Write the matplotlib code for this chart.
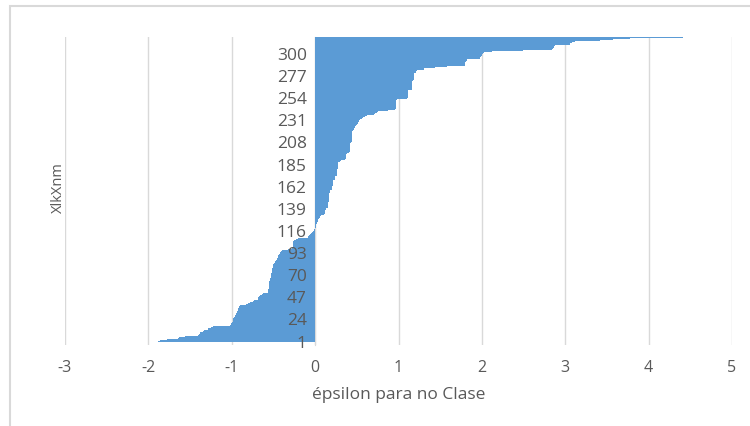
import matplotlib
matplotlib.use("Agg")
import matplotlib.pyplot as plt
from matplotlib.patches import Rectangle

plt.rcParams['font.family'] = ['Open Sans', 'DejaVu Sans']

# sorted epsilon values, bottom bar (1) to top bar
values = [
    -1.88, -1.86, -1.78, -1.65, -1.63, -1.56, -1.40, -1.39, -1.38, -1.38,
    -1.34, -1.33, -1.30, -1.29, -1.28, -1.25, -1.22,
    -1.02, -1.01, -1.01, -1.00,
    -0.99, -0.99, -0.98, -0.98, -0.97,
    -0.96, -0.96, -0.95, -0.95,
    -0.94, -0.94, -0.93,
    -0.92, -0.92, -0.91, -0.91, -0.90,
    -0.88, -0.83, -0.81, -0.78, -0.75, -0.73,
    -0.69, -0.68, -0.68, -0.67, -0.66, -0.64, -0.62,
    -0.56, -0.56, -0.56, -0.56, -0.55, -0.55, -0.55, -0.55,
    -0.55, -0.55, -0.55, -0.55, -0.54, -0.54, -0.54, -0.54,
    -0.53, -0.53, -0.53, -0.53, -0.53, -0.52, -0.52, -0.52, -0.52, -0.52,
    -0.51, -0.50, -0.50, -0.50, -0.49,
    -0.48, -0.48, -0.47,
    -0.46, -0.46, -0.45, -0.45, -0.44, -0.44, -0.43, -0.42, -0.42, -0.41, -0.40,
    -0.32,
    -0.28, -0.28, -0.27, -0.27, -0.27, -0.26, -0.26, -0.26, -0.25,
    -0.23, -0.21,
    -0.09, -0.08, -0.07, -0.06, -0.05, -0.04,
    -0.02, -0.01, -0.01, -0.01,
    0.00, 0.01, 0.01, 0.01, 0.01, 0.02, 0.02,
    0.04, 0.04, 0.04, 0.05,
    0.06, 0.06, 0.07,
    0.11, 0.12, 0.12, 0.12, 0.12, 0.13, 0.13,
    0.15, 0.15, 0.15, 0.15, 0.15,
    0.16, 0.16, 0.17, 0.17, 0.17, 0.17, 0.17, 0.17, 0.17, 0.17, 0.17, 0.18, 0.18, 0.18,
    0.20, 0.20, 0.20, 0.20, 0.21, 0.21, 0.21, 0.21, 0.21, 0.21,
    0.24, 0.24, 0.24, 0.24, 0.24,
    0.26, 0.26, 0.26, 0.26, 0.26, 0.26, 0.26,
    0.28, 0.28, 0.28, 0.28, 0.28, 0.28, 0.28,
    0.30, 0.31,
    0.36, 0.37, 0.37, 0.37, 0.37, 0.37, 0.37, 0.38,
    0.41, 0.42, 0.42, 0.42, 0.42, 0.42, 0.42, 0.42, 0.42, 0.42, 0.43,
    0.44, 0.44, 0.44, 0.44, 0.44, 0.44, 0.44, 0.44, 0.44, 0.44, 0.44,
    0.46, 0.46, 0.47, 0.47, 0.48, 0.48, 0.49,
    0.50, 0.51,
    0.52, 0.53, 0.53, 0.54,
    0.56, 0.58, 0.60, 0.62,
    0.71, 0.72, 0.74, 0.75, 0.88,
    0.96, 0.97, 0.97, 0.97, 0.97, 0.97, 0.97, 0.97, 0.97, 0.97, 0.97, 0.98,
    1.10, 1.11, 1.11, 1.11, 1.11, 1.11, 1.11, 1.11, 1.11,
    1.16, 1.16, 1.16, 1.16, 1.16, 1.16, 1.16, 1.16, 1.16,
    1.17, 1.18, 1.18, 1.18, 1.18, 1.18, 1.18, 1.18, 1.18,
    1.21, 1.21, 1.22, 1.30, 1.31, 1.44, 1.58,
    1.80, 1.80, 1.80, 1.80, 1.81, 1.82, 1.82,
    1.98, 1.98,
    1.99, 2.00, 2.00, 2.00, 2.01, 2.02,
    2.12, 2.49, 2.84,
    2.85, 2.86, 2.87, 2.88,
    3.06, 3.06, 3.08, 3.12, 3.42, 3.57, 3.78, 4.41,
]
categories = list(range(1, len(values) + 1))

ytick_values = [1, 24, 47, 70, 93, 116, 139, 162, 185, 208, 231, 254, 277, 300]
ytick_labels = [str(v) for v in ytick_values]
xtick_values = [-3, -2, -1, 0, 1, 2, 3, 4, 5]
xtick_labels = ['-3', '-2', '-1', '0', '1', '2', '3', '4', '5']

x_title = 'épsilon para no Clase'
y_title = 'XlkXnm'

W, H = 750, 426
fig = plt.figure(figsize=(W / 100, H / 100), dpi=100)
ax = fig.add_axes([65 / W, 1 - 345 / H, 667 / W, 308 / H])

ax.barh(categories, values, height=1.0, color='#5B9BD5', linewidth=0,
        antialiased=False, zorder=1)

ax.set_xlim(-3, 5)
ax.set_ylim(0.5 - 3.1, len(values) + 0.7)

ax.set_xticks(xtick_values)
ax.set_xticklabels(xtick_labels)
ax.set_yticks(ytick_values)
ax.set_yticklabels(ytick_labels)

ax.set_axisbelow(True)
ax.xaxis.grid(True, color='#D9D9D9', linewidth=1)
ax.yaxis.grid(False)
ax.yaxis.set_zorder(3)

for s in ['top', 'right', 'bottom']:
    ax.spines[s].set_visible(False)
ax.spines['left'].set_position(('data', 0))
ax.spines['left'].set_color('#D9D9D9')
ax.spines['left'].set_zorder(0.6)

ax.tick_params(axis='y', length=0, pad=6, labelsize=12.5, labelcolor='#595959')
ax.tick_params(axis='x', length=0, pad=10.5, labelsize=11.5, labelcolor='#595959')

ax.set_xlabel(x_title, fontsize=12.5, color='#595959')
ax.xaxis.set_label_coords(0.5, (345 - 395) / 308)
ax.xaxis.label.set_va('center')
ax.set_ylabel(y_title, fontsize=10.5, color='#595959')
ax.yaxis.set_label_coords((58 - 65) / 667, (345 - 188) / 308)
ax.yaxis.label.set_va('center')

fig.add_artist(Rectangle((10 / W, -0.5), 2, 1.5 - 6 / H, transform=fig.transFigure,
                         fill=False, edgecolor='#D9D9D9', linewidth=1.5))

fig.savefig('out.png', dpi=100)
